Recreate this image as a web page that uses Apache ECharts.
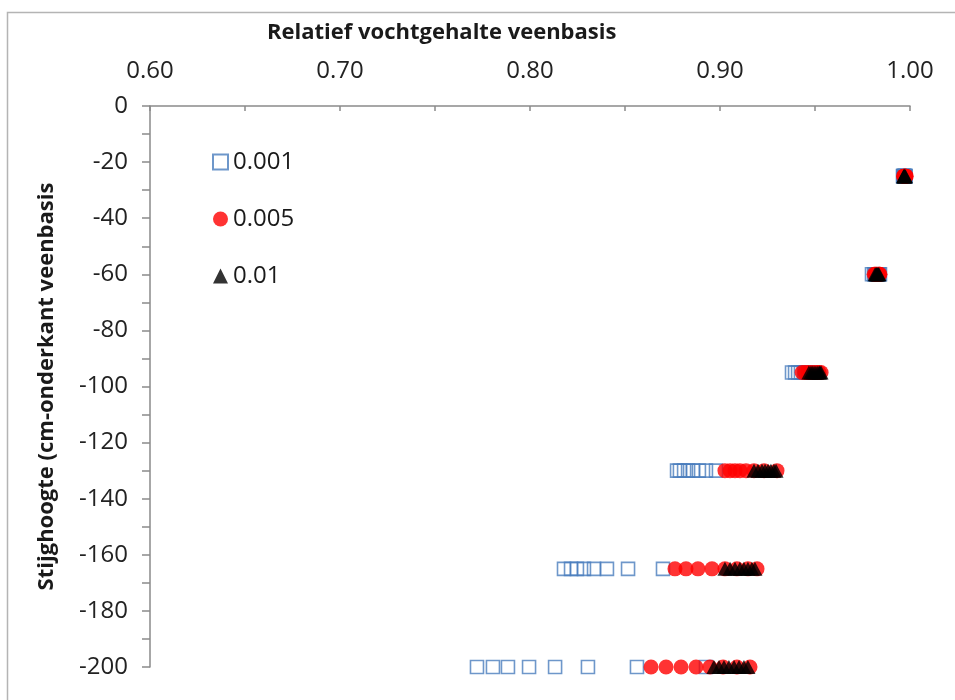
<!DOCTYPE html>
<html>
<head>
<meta charset="utf-8">
<script src="https://cdn.jsdelivr.net/npm/echarts@6/dist/echarts.min.js"></script>
<style>
  html, body { margin: 0; padding: 0; background: #ffffff; }
  #chart { width: 955px; height: 700px; }
</style>
</head>
<body>
<div id="chart"></div>
<script>
// Stijghoogte (cm onder de veenbasis) per meetniveau
const depths = [-25, -60, -95, -130, -165, -200];

// Relatief vochtgehalte per niveau, één rij per stijghoogte
const moisture0001 = [
  [0.9963, 0.9965, 0.9967, 0.9969, 0.9971, 0.9973, 0.9975, 0.9977],
  [0.9800, 0.9811, 0.9816, 0.9821, 0.9826, 0.9832, 0.9837, 0.9842],
  [0.9379, 0.9395, 0.9411, 0.9426, 0.9442, 0.9453, 0.9463, 0.9474],
  [0.8774, 0.8789, 0.8811, 0.8832, 0.8858, 0.8889, 0.8926, 0.8979],
  [0.8179, 0.8216, 0.8247, 0.8284, 0.8337, 0.8405, 0.8516, 0.8700],
  [0.7721, 0.7805, 0.7884, 0.7995, 0.8132, 0.8305, 0.8563, 0.8926]
];
const moisture0005 = [
  [0.9966, 0.9968, 0.9970, 0.9972, 0.9974, 0.9976, 0.9978, 0.9980],
  [0.9811, 0.9816, 0.9821, 0.9826, 0.9832, 0.9837, 0.9840, 0.9842],
  [0.9432, 0.9447, 0.9463, 0.9479, 0.9495, 0.9511, 0.9521, 0.9532],
  [0.9026, 0.9053, 0.9079, 0.9105, 0.9137, 0.9179, 0.9232, 0.9300],
  [0.8763, 0.8821, 0.8884, 0.8958, 0.9026, 0.9089, 0.9147, 0.9195],
  [0.8637, 0.8716, 0.8795, 0.8874, 0.8947, 0.9016, 0.9089, 0.9158]
];
const moisture001 = [
  [0.9966, 0.9968, 0.9969, 0.9970, 0.9971, 0.9972, 0.9974, 0.9976],
  [0.9816, 0.9821, 0.9824, 0.9826, 0.9829, 0.9832, 0.9834, 0.9837],
  [0.9468, 0.9479, 0.9489, 0.9500, 0.9511, 0.9521, 0.9526, 0.9532],
  [0.9179, 0.9200, 0.9221, 0.9237, 0.9253, 0.9268, 0.9284, 0.9295],
  [0.9026, 0.9053, 0.9079, 0.9105, 0.9126, 0.9147, 0.9168, 0.9184],
  [0.8968, 0.8995, 0.9021, 0.9047, 0.9074, 0.9100, 0.9126, 0.9147]
];

const seriesNames = ['0.001', '0.005', '0.01'];
const xTitle = 'Relatief vochtgehalte veenbasis';
const yTitle = 'Stijghoogte (cm-onderkant veenbasis';

// koppel elke waarde aan de stijghoogte van zijn rij
function toPoints(rows) {
  const pts = [];
  rows.forEach((vals, i) => vals.forEach(v => pts.push([v, depths[i]])));
  return pts;
}

const FONT = '"Open Sans", sans-serif';
const AXIS_GREY = '#8a8a8a';

const chart = echarts.init(document.getElementById('chart'), null, { renderer: 'canvas' });

chart.setOption({
  backgroundColor: '#ffffff',
  animation: false,
  title: {
    text: xTitle,
    left: 267,
    top: 22,
    padding: 0,
    textStyle: { fontFamily: FONT, fontSize: 22, fontWeight: 'bold', color: '#1a1a1a' }
  },
  graphic: [{
    type: 'rect',
    shape: { x: 7.5, y: 12.5, width: 1200, height: 1200 },
    style: { fill: 'none', stroke: '#b4b4b4', lineWidth: 1.5 },
    silent: true,
    z: -10
  }],
  legend: {
    orient: 'vertical',
    left: 212,
    top: 150,
    padding: 0,
    itemWidth: 15,
    itemHeight: 15,
    itemGap: 33,
    itemTextGap: 9,
    textStyle: { fontFamily: FONT, fontSize: 24, color: '#1a1a1a' },
    data: seriesNames
  },
  grid: { left: 150, top: 106, right: 45, bottom: 33, containLabel: false },
  xAxis: {
    type: 'value',
    position: 'top',
    min: 0.6,
    max: 1.0,
    interval: 0.05,
    axisLine: { show: true, onZero: false, lineStyle: { color: AXIS_GREY, width: 1.5 } },
    axisTick: { show: true, inside: true, length: 5, lineStyle: { color: AXIS_GREY, width: 1.5 } },
    splitLine: { show: false },
    axisLabel: {
      margin: 23,
      fontFamily: FONT,
      fontSize: 24,
      color: '#222',
      formatter: v => (Math.round(v * 100) % 10 === 0 ? v.toFixed(2) : '')
    }
  },
  yAxis: {
    type: 'value',
    min: -200,
    max: 0,
    interval: 10,
    name: yTitle,
    nameLocation: 'middle',
    nameRotate: 90,
    nameGap: 92,
    nameTextStyle: { fontFamily: FONT, fontSize: 22, fontWeight: 'bold', color: '#1a1a1a' },
    axisLine: { show: true, onZero: false, lineStyle: { color: AXIS_GREY, width: 1.5 } },
    axisTick: { show: true, inside: false, length: 8, lineStyle: { color: AXIS_GREY, width: 1.5 } },
    splitLine: { show: false },
    axisLabel: {
      margin: 22,
      fontFamily: FONT,
      fontSize: 24,
      color: '#222',
      formatter: v => (v % 20 === 0 ? String(v) : '')
    }
  },
  series: [
    {
      name: seriesNames[0],
      type: 'scatter',
      symbol: 'rect',
      symbolSize: 13,
      itemStyle: { color: 'rgba(255,255,255,0)', borderColor: '#4a7dbd', borderWidth: 1.6 },
      data: toPoints(moisture0001),
      z: 2
    },
    {
      name: seriesNames[1],
      type: 'scatter',
      symbol: 'circle',
      symbolSize: 15,
      itemStyle: { color: '#ff0000' },
      data: toPoints(moisture0005),
      z: 3
    },
    {
      name: seriesNames[2],
      type: 'scatter',
      symbol: 'triangle',
      symbolSize: [15, 14],
      itemStyle: { color: '#000000' },
      data: toPoints(moisture001),
      z: 4
    }
  ]
});
</script>
</body>
</html>
